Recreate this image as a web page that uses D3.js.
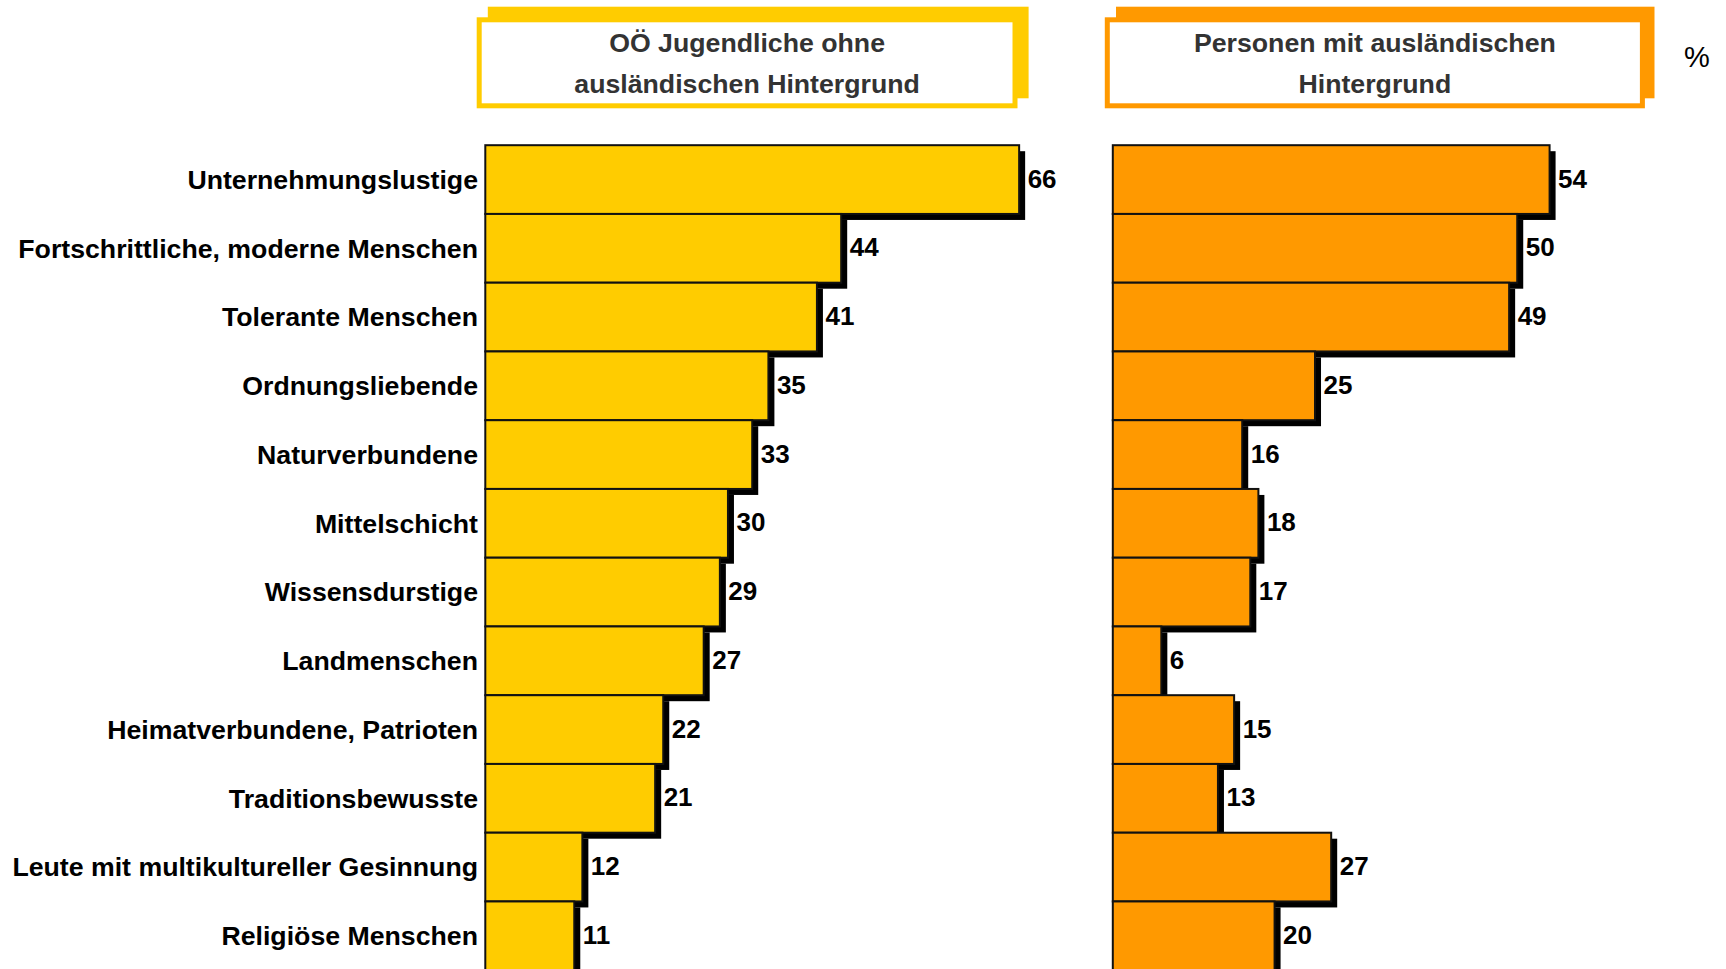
<!DOCTYPE html>
<html><head><meta charset="utf-8">
<script src="https://cdn.jsdelivr.net/npm/d3@7"></script>
<style>html,body{margin:0;padding:0;background:#fff;overflow:hidden}</style>
</head><body>
<svg id="chart" width="1726" height="969"></svg>
<script>
const categories = ["Unternehmungslustige","Fortschrittliche, moderne Menschen","Tolerante Menschen","Ordnungsliebende","Naturverbundene","Mittelschicht","Wissensdurstige","Landmenschen","Heimatverbundene, Patrioten","Traditionsbewusste","Leute mit multikultureller Gesinnung","Religiöse Menschen"];
const seriesNames = ["OÖ Jugendliche ohne|ausländischen Hintergrund","Personen mit ausländischen|Hintergrund"];
const valuesOhne = [66,44,41,35,33,30,29,27,22,21,12,11];
const valuesMit = [54,50,49,25,16,18,17,6,15,13,27,20];
const colors = ["#FFCC00","#FF9900"];
const unitLabel = "%";

const svg = d3.select("#chart");
const font = "'Liberation Sans', Arial, sans-serif";
const step = 68.75;
const y = d3.scaleBand().domain(categories).range([145.2, 145.2 + categories.length*step]).padding(0);
const x = d3.scaleLinear().domain([0,70]).range([0,566.2]);
const panels = [
  {x0:485.3, vals:valuesOhne, color:colors[0], name:seriesNames[0], back:[487.8,6.7,1028.6,98.3], front:[479.2,19.8,535.8,86]},
  {x0:1112.8, vals:valuesMit, color:colors[1], name:seriesNames[1], back:[1116,6.7,1654.5,98.3], front:[1107.3,19.8,535.1,86]}
];
const sh = 6;
panels.forEach(p=>{
  const g = svg.append("g").attr("transform",`translate(${p.x0},0)`);
  const data = categories.map((c,i)=>({c, v:p.vals[i]}));
  g.selectAll("rect.shadow").data(data).join("rect").attr("class","shadow")
    .attr("x", sh).attr("y", d=>y(d.c)+sh).attr("width", d=>x(d.v)).attr("height", y.bandwidth())
    .attr("fill","#000");
  g.selectAll("rect.bar").data(data).join("rect").attr("class","bar")
    .attr("x",0).attr("y", d=>y(d.c)).attr("width", d=>x(d.v)).attr("height", y.bandwidth())
    .attr("fill", p.color).attr("stroke","#111").attr("stroke-width",2);
  g.selectAll("text.val").data(data).join("text").attr("class","val")
    .attr("x", d=>x(d.v)+sh+2.5).attr("y", d=>y(d.c)+y.bandwidth()/2-1).attr("dy","0.35em")
    .attr("font-family",font).attr("font-weight","bold").attr("font-size",26).attr("fill","#000")
    .text(d=>d.v);
  // header
  const b = p.back;
  svg.append("rect").attr("x",b[0]).attr("y",b[1]).attr("width",b[2]-b[0]).attr("height",b[3]-b[1]).attr("fill",p.color);
  const f = p.front;
  svg.append("rect").attr("x",f[0]).attr("y",f[1]).attr("width",f[2]).attr("height",f[3]).attr("fill","#fff").attr("stroke",p.color).attr("stroke-width",5);
  const lines = p.name.split("|");
  lines.forEach((l,i)=>{
    svg.append("text").attr("x",f[0]+f[2]/2).attr("y",51.7+41*i).attr("text-anchor","middle")
      .attr("font-family",font).attr("font-weight","bold").attr("font-size",26.7).attr("fill","#333").text(l);
  });
});
// category labels
svg.append("g").selectAll("text").data(categories).join("text")
  .attr("x",478).attr("y",d=>y(d)+y.bandwidth()/2).attr("dy","0.35em").attr("text-anchor","end")
  .attr("font-family",font).attr("font-weight","bold").attr("font-size",26.7).attr("fill","#000").text(d=>d);
svg.append("text").attr("x",1697).attr("y",67).attr("text-anchor","middle")
  .attr("font-family",font).attr("font-size",29).attr("fill","#000").text(unitLabel);
</script>
</body></html>
